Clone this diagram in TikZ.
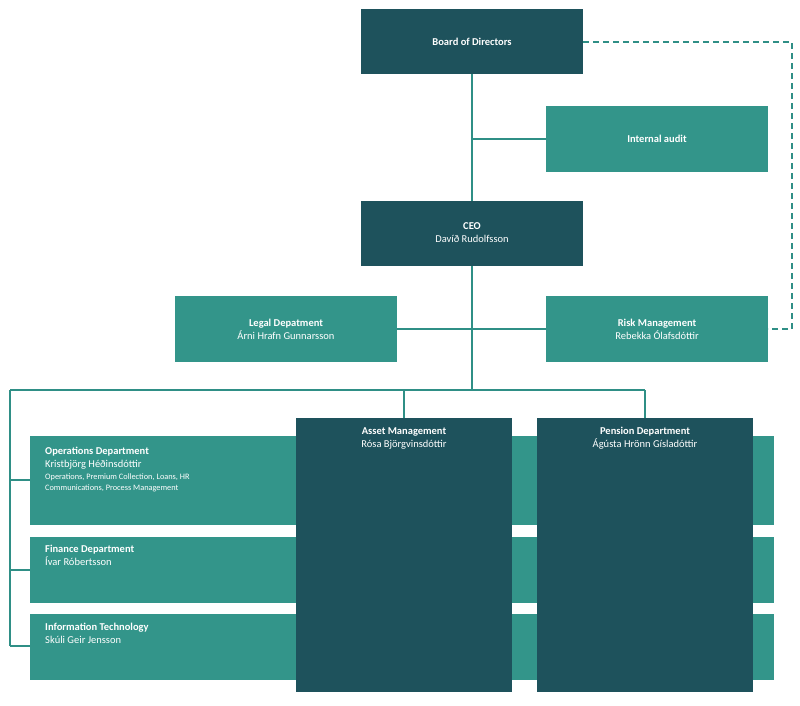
\documentclass[tikz,border=0pt]{standalone}
\usepackage{fontspec}
\setmainfont{Carlito}
\definecolor{dk}{HTML}{1E525C}
\definecolor{lt}{HTML}{33958A}
\definecolor{ln}{HTML}{2F8F86}
\begin{document}
\begin{tikzpicture}[x=1pt,y=-1pt,
 box/.style={draw=none,inner sep=0,text=white,align=center,font=\fontsize{10.5}{13}\selectfont},
 ln/.style={draw=ln,line width=1.2pt}]
\useasboundingbox (0,0) rectangle (800,705);
\newcommand{\bx}[6]{\fill[#5] (#1,#2) rectangle (#3,#4); \node[box] (#6) at ({(#1+#3)/2},{(#2+#4)/2}) {};}
% connectors
\coordinate (v0) at (472,74);
\coordinate (v1) at (472,390);
\draw[ln] (v0) -- (v1);
\draw[ln] (472,139) -- (546,139);
\draw[ln] (397,329) -- (546,329);
\draw[ln] (10,390) -- (645,390);
\draw[ln] (404,390) -- (404,418);
\draw[ln] (645,390) -- (645,418);
\draw[ln] (10,390) -- (10,646);
\draw[ln] (10,480) -- (30,480);
\draw[ln] (10,570) -- (30,570);
\draw[ln] (10,646) -- (30,646);
\draw[ln,dashed,dash pattern=on 6pt off 4pt] (583,42) -- (792,42) -- (792,329) -- (768,329);
% boxes
\fill[dk] (361,9) rectangle (583,74);
\node[box] (board) at (472,42) {\textbf{Board of Directors}};
\fill[lt] (546,106) rectangle (768,172);
\node[box] (audit) at (657,139) {\textbf{Internal audit}};
\fill[dk] (361,201) rectangle (583,266);
\node[box] (ceo) at (472,233) {\textbf{CEO}\\Davíð Rudolfsson};
\fill[lt] (175,296) rectangle (397,362);
\node[box] (legal) at (286,329) {\textbf{Legal Depatment}\\Árni Hrafn Gunnarsson};
\fill[lt] (546,296) rectangle (768,362);
\node[box] (risk) at (657,329) {\textbf{Risk Management}\\Rebekka Ólafsdóttir};
\fill[lt] (30,436) rectangle (774,525);
\node[box,anchor=north west,align=left] (ops) at (45,447) {\textbf{Operations Department}\\Kristbjörg Héðinsdóttir\\[-1pt]{\fontsize{8.3}{11}\selectfont Operations, Premium Collection, Loans, HR}\\[-2pt]{\fontsize{8.3}{11}\selectfont Communications, Process Management}};
\fill[lt] (30,537) rectangle (774,603);
\node[box,anchor=north west,align=left] (fin) at (45,545) {\textbf{Finance Department}\\Ívar Róbertsson};
\fill[lt] (30,614) rectangle (774,680);
\node[box,anchor=north west,align=left] (it) at (45,623) {\textbf{Information Technology}\\Skúli Geir Jensson};
\fill[dk] (296,418) rectangle (512,692);
\node[box,anchor=north] (asset) at (404,427) {\textbf{Asset Management}\\Rósa Björgvinsdóttir};
\fill[dk] (537,418) rectangle (753,692);
\node[box,anchor=north] (pension) at (645,427) {\textbf{Pension Department}\\Ágústa Hrönn Gísladóttir};
\end{tikzpicture}
\end{document}
